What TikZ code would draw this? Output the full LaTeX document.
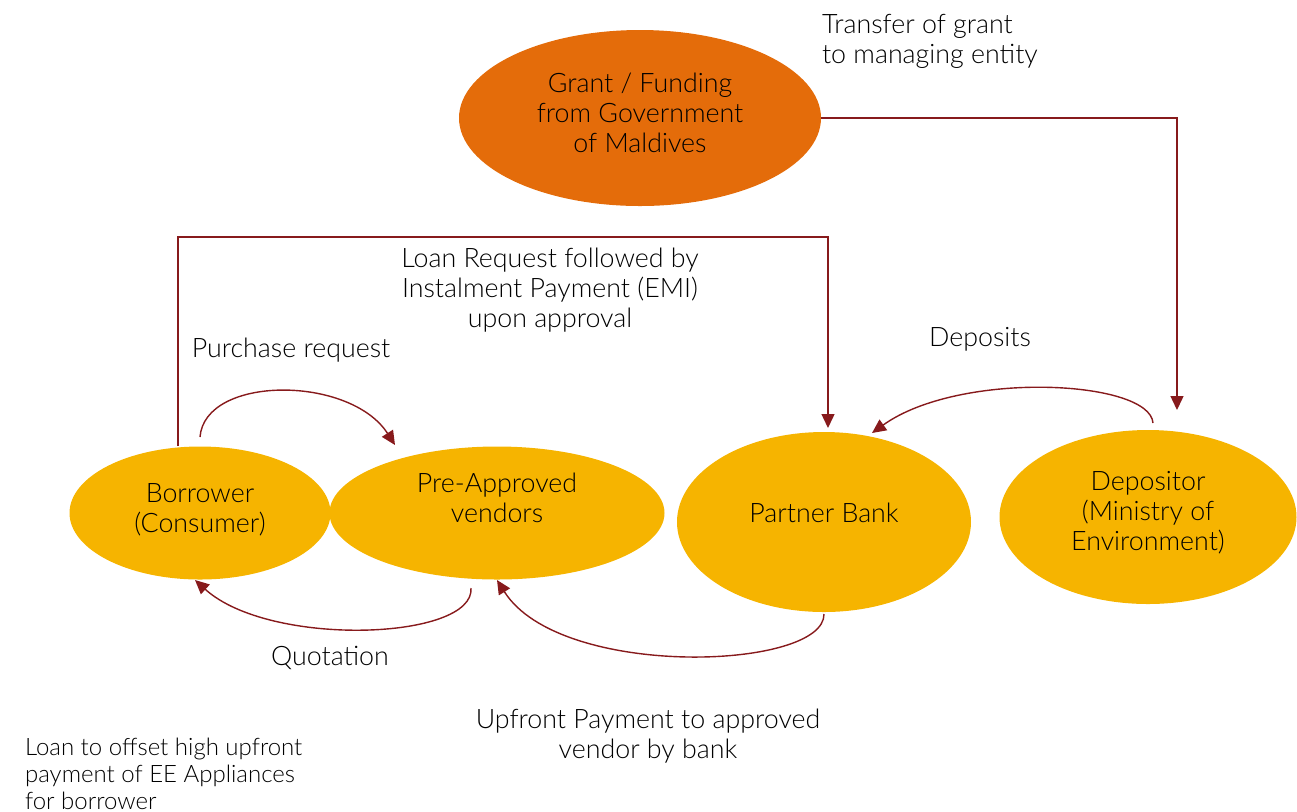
\documentclass[tikz,border=0pt]{standalone}
\usepackage{fontspec}
\setmainfont{Lato Light}
\usetikzlibrary{arrows.meta,shapes.geometric}
\definecolor{grantfill}{RGB}{228,108,10}
\definecolor{partyfill}{RGB}{246,180,0}
\definecolor{flowline}{RGB}{135,26,28}

\begin{document}
\begin{tikzpicture}[x=0.5pt,y=-0.5pt]

\tikzset{
  party/.style={
    ellipse, fill=partyfill, inner sep=0pt
  },
  partylabel/.style={
    align=center, inner sep=0pt, font=\fontsize{13.4}{15}\selectfont
  },
  flow/.style={
    draw=flowline, line width=0.7pt,
    -{Triangle[length=7pt,width=6.5pt]}
  },
  note/.style={
    align=center, font=\fontsize{13.4}{15}\selectfont
  }
}

\useasboundingbox (0,0) rectangle (1297,811);

% Parties, placed at pixel coordinates of the layout (sizes in pt).
\node[party, fill=grantfill, minimum width=181pt, minimum height=88pt,
  label={[partylabel, yshift=2.5pt]center:Grant / Funding\\from Government\\of Maldives}]
  (grant) at (640,118) {};
\node[party, minimum width=130.5pt, minimum height=66.5pt,
  label={[partylabel, yshift=1.5pt]center:Borrower\\(Consumer)}]
  (borrower) at (200,513) {};
\node[party, minimum width=167.5pt, minimum height=66.5pt,
  label={[partylabel, yshift=7.5pt]center:Pre-Approved\\vendors}]
  (vendors) at (497,513) {};
\node[party, minimum width=147pt, minimum height=90pt,
  label={[partylabel, yshift=4.5pt]center:Partner Bank}]
  (bank) at (824,522) {};
\node[party, minimum width=148.5pt, minimum height=87pt,
  label={[partylabel, yshift=2pt]center:Depositor\\(Ministry of\\Environment)}]
  (depositor) at (1148,517) {};

% Free ends of the connectors.
\coordinate (deptop) at (1177,410);
\coordinate (loanfoot) at (178,446);
\coordinate (banktop) at (828,428);
\coordinate (purchasestart) at (200,437);
\coordinate (purchaseend) at (395,445);
\coordinate (depositstart) at (1153,423);
\coordinate (depositend) at (872,433);
\coordinate (quotestart) at (471,588);
\coordinate (quoteend) at (195,580);
\coordinate (upfrontstart) at (824,614);
\coordinate (upfrontend) at (497,580);

% Connectors.
\draw[flow] (grant.east) -| (deptop);
\draw[flow] (loanfoot) -- ++(0,-209) -| (banktop);
\draw[flow] (purchasestart) .. controls (205,375) and (350,375) .. (purchaseend);
\draw[flow] (depositstart) .. controls (1150,380) and (960,370) .. (depositend);
\draw[flow] (quotestart) .. controls (475,640) and (270,648) .. (quoteend);
\draw[flow] (upfrontstart) .. controls (825,670) and (560,680) .. (upfrontend);

% Labels.
\node[note, align=left, anchor=north west] (transferlbl) at (815,7)
  {Transfer of grant\\to managing entity};
\node[note] (loanlbl) at (550,290)
  {Loan Request followed by\\Instalment Payment (EMI)\\upon approval};
\node[note] (purchaselbl) at (291,350) {Purchase request};
\node[note] (depositlbl) at (980,339) {Deposits};
\node[note] (quotelbl) at (330,658) {Quotation};
\node[note] (upfrontlbl) at (648,736)
  {Upfront Payment to approved\\vendor by bank};
\node[note, align=left, anchor=north west,
  font=\fontsize{12}{13.5}\selectfont] (offsetlbl) at (18,731)
  {Loan to offset high upfront\\payment of EE Appliances\\for borrower};

\end{tikzpicture}
\end{document}
